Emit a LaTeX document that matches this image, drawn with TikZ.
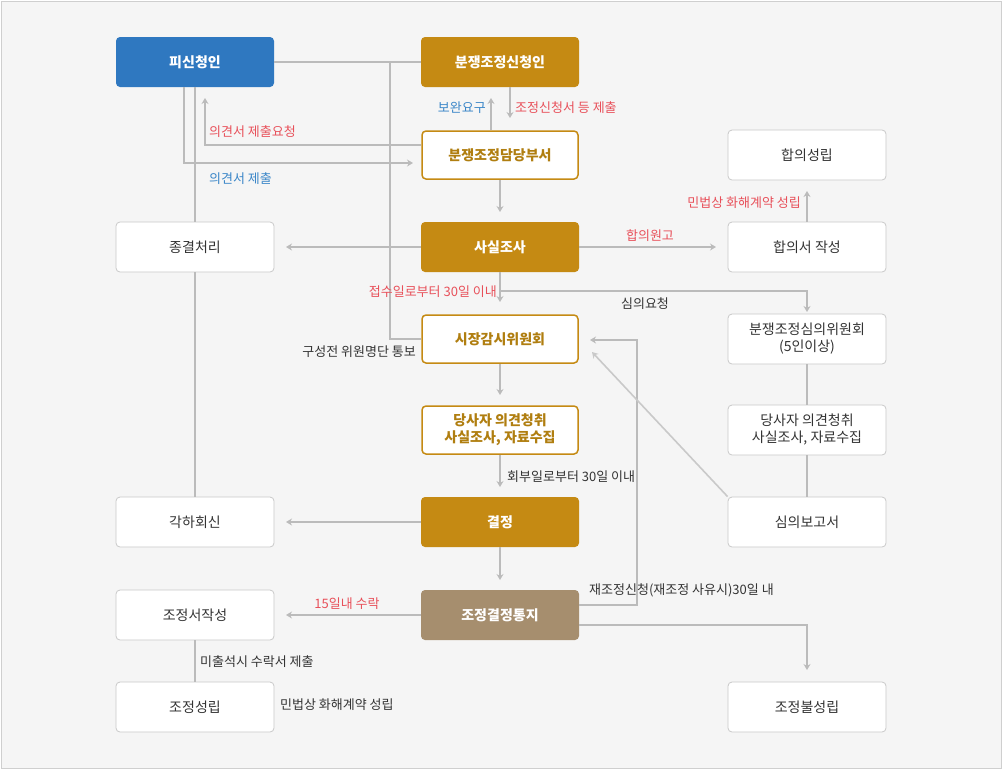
\documentclass[tikz,border=0pt]{standalone}
\usepackage{fontspec}
\setmainfont{Noto Sans CJK KR}
\usetikzlibrary{arrows.meta}
\definecolor{bblue}{HTML}{2F78C0}
\definecolor{bgold}{HTML}{C58A13}
\definecolor{btaupe}{HTML}{A68E6E}
\definecolor{tgold}{HTML}{B07E10}
\definecolor{lred}{HTML}{E8505A}
\definecolor{lblue}{HTML}{3A86C8}
\definecolor{ln}{HTML}{BBBBBB}
\definecolor{txt}{HTML}{333333}
\begin{document}
\begin{tikzpicture}[x=1pt,y=-1pt,
 box/.style={minimum width=158pt,minimum height=50pt,rounded corners=4pt,align=center,font=\bfseries\fontsize{14}{17}\selectfont,inner sep=0pt},
 bluebox/.style={box,fill=bblue,text=white},
 goldbox/.style={box,fill=bgold,text=white},
 taupebox/.style={box,fill=btaupe,text=white},
 wgold/.style={box,fill=white,draw=bgold,line width=1.5pt,text=tgold,minimum width=156pt,minimum height=48pt},
 wgray/.style={box,fill=white,draw=ln!80,line width=0.8pt,text=txt,font=\fontsize{14}{17}\selectfont},
 conn/.style={draw=ln,line width=1.6pt},
 arr/.style={conn,-{Stealth[length=6pt,width=7pt]}},
 lab/.style={font=\fontsize{13}{15}\selectfont,text=txt,inner sep=1pt},
 rlab/.style={lab,text=lred},
 blab/.style={lab,text=lblue}]
\useasboundingbox (0,0) rectangle (1002,769);
\draw[fill=white!96!black,draw=ln!70] (1,1) rectangle (1001,768);
% nodes
\node[bluebox] (pi) at (195,62) {피신청인};
\node[goldbox] (sin) at (500,62) {분쟁조정신청인};
\node[wgold] (dam) at (500,155) {분쟁조정담당부서};
\node[wgray] (hs) at (807,155) {합의성립};
\node[wgray] (jong) at (195,247) {종결처리};
\node[goldbox] (sil) at (500,247) {사실조사};
\node[wgray] (hj) at (807,247) {합의서 작성};
\node[wgold] (sj) at (500,339) {시장감시위원회};
\node[wgray] (sw) at (807,339) {분쟁조정심의위원회\\(5인이상)};
\node[wgold] (dg) at (500,430) {당사자 의견청취\\사실조사, 자료수집};
\node[wgray] (dr) at (807,430) {당사자 의견청취\\사실조사, 자료수집};
\node[wgray] (gh) at (195,522) {각하회신};
\node[goldbox] (gj) at (500,522) {결정};
\node[wgray] (sb) at (807,522) {심의보고서};
\node[wgray] (jsj) at (195,615) {조정서작성};
\node[taupebox] (jgt) at (500,615) {조정결정통지};
\node[wgray] (jsr) at (195,707) {조정성립};
\node[wgray] (jbs) at (807,707) {조정불성립};
% connectors
\draw[conn] (pi.east) -- (sin.west);
\coordinate (c1) at (390,62);
\draw[conn] (c1) |- (sj.west);
\node[lab,anchor=east] (l1) at (417,352) {구성전 위원명단 통보};
\draw[arr] (dam.north -| 491,0) -- (491,98);
\node[blab,anchor=east] (l2) at (487,108) {보완요구};
\draw[arr] (sin.south -| 510,0) -- (510,118);
\node[rlab,anchor=west] (l3) at (514,108) {조정신청서 등 제출};
\draw[arr] (dam.west |- 0,145) -| (205,98);
\node[rlab,anchor=west] (l4) at (208,132) {의견서 제출요청};
\draw[arr] (pi.south -| 184,0) |- (413,163);
\node[blab,anchor=west] (l5) at (208,179) {의견서 제출};
\draw[conn] (pi.south) -- (jong.north);
\draw[conn] (jong.south) -- (gh.north);
\draw[arr] (dam.south) -- (500,212);
\draw[arr] (sil.west) -- (286,247);
\draw[arr] (sil.east) -- (716,247);
\node[rlab,anchor=south] (l6) at (650,243) {합의원고};
\draw[arr] (hj.north) -- (807,191);
\node[rlab,anchor=east] (l7) at (802,203) {민법상 화해계약 성립};
\draw[arr] (sil.south) -- (500,302);
\node[rlab,anchor=east] (l8) at (498,292) {접수일로부터 30일 이내};
\coordinate (c2) at (500,291);
\draw[arr] (c2) -| (807,312);
\node[lab] (l9) at (645,304) {심의요청};
\draw[arr] (sj.south) -- (500,395);
\draw[arr] (dg.south) -- (500,487);
\node[lab,anchor=west] (l10) at (506,477) {회부일로부터 30일 이내};
\draw[arr] (gj.west) -- (286,522);
\draw[arr] (gj.south) -- (500,580);
\draw[arr] (jgt.east |- 0,605) -| (637,340) -- (590,340);
\node[lab,anchor=west] (l11) at (588,590) {재조정신청(재조정 사유시)30일 내};
\draw[arr,draw=ln!80] (sb.north west) -- (592,352);
\draw[arr] (jgt.east |- 0,625) -| (807,670);
\draw[arr] (jgt.west) -- (286,615);
\node[rlab,anchor=south] (l12) at (347,611) {15일내 수락};
\draw[conn] (jsj.south) -- (jsr.north);
\node[lab,anchor=west] (l13) at (199,662) {미출석시 수락서 제출};
\node[lab,anchor=west] (l14) at (279,705) {민법상 화해계약 성립};
\draw[conn] (sw.south) -- (dr.north);
\draw[conn] (dr.south) -- (sb.north);
\end{tikzpicture}
\end{document}
